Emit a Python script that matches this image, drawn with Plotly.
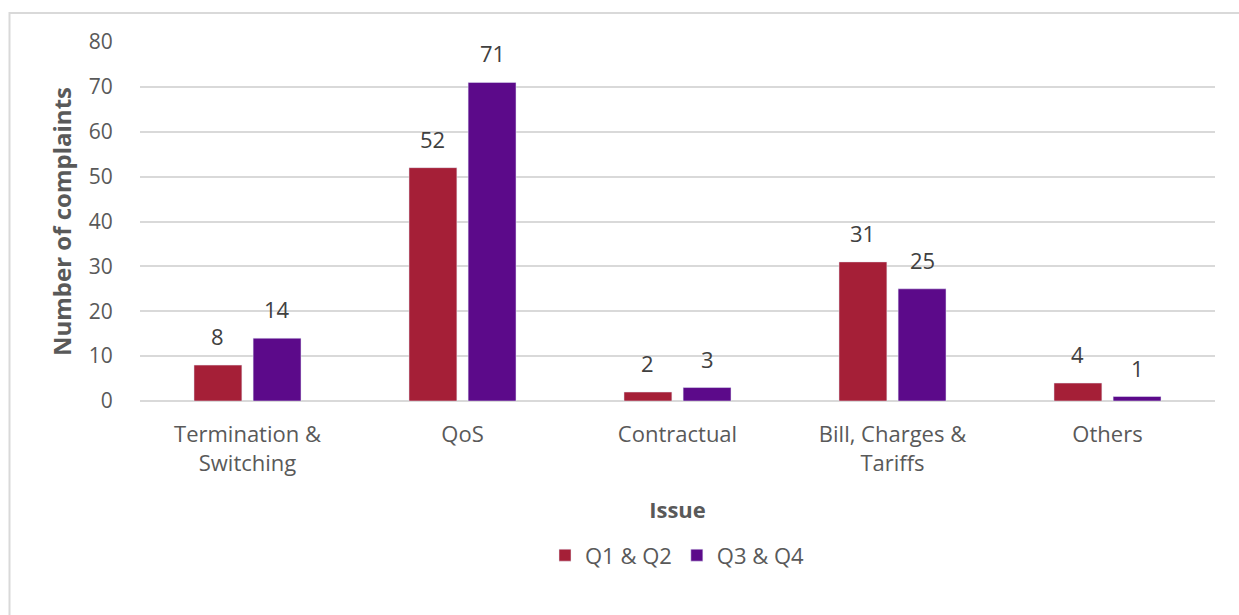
import plotly.graph_objects as go

categories = ["Termination &<br>Switching", "QoS", "Contractual", "Bill, Charges &<br>Tariffs", "Others"]
q1q2 = [8, 52, 2, 31, 4]
q3q4 = [14, 71, 3, 25, 1]
y_ticks = [0, 10, 20, 30, 40, 50, 60, 70, 80]

FONT = "Open Sans"
RED, PURPLE = "#A51F37", "#5C0A8A"
fig = go.Figure()
fig.add_trace(go.Bar(name="Q1 & Q2", x=categories, y=q1q2, marker_color=RED))
fig.add_trace(go.Bar(name="Q3 & Q4", x=categories, y=q3q4, marker_color=PURPLE))

L, R, T, B = 140, 24, 42, 214
W, H = 1239, 615
pw, ph = W - L - R, H - T - B
bx = (9.5 - L) / pw
by = (H - B - 13) / ph
BARGAP = 0.45
half = pw / len(categories) * (1 - BARGAP) / 4

annotations = []
for series, sh in ((q1q2, -half), (q3q4, half)):
    for c, v in zip(categories, series):
        annotations.append(dict(x=c, y=v, xref="x", yref="y", text=str(v), showarrow=False,
                                xshift=sh, yshift=12, yanchor="bottom",
                                font=dict(size=22, color="#404040", family=FONT)))

fig.update_layout(
    width=W, height=H,
    margin=dict(l=L, r=R, t=T, b=B),
    paper_bgcolor="white", plot_bgcolor="white",
    barmode="group", bargap=BARGAP, bargroupgap=0.19,
    font=dict(family=FONT, color="#595959", size=22),
    showlegend=True,
    legend=dict(orientation="h", x=0.5, xanchor="center", y=-0.43, yanchor="middle",
                font=dict(size=22, color="#595959", family=FONT), itemwidth=30,
                traceorder="normal"),
    xaxis=dict(showgrid=False, showline=False, ticks="outside", ticklen=14, tickcolor="rgba(0,0,0,0)",
               tickfont=dict(size=22, color="#595959"),
               title=dict(text="<b>Issue</b>", font=dict(size=22, color="#595959"), standoff=26)),
    yaxis=dict(range=[0, 80], tickvals=y_ticks, showgrid=True, gridcolor="#D9D9D9", gridwidth=1.5,
               zeroline=True, zerolinecolor="#D9D9D9", zerolinewidth=1.5,
               ticks="outside", ticklen=22, tickcolor="rgba(0,0,0,0)",
               tickfont=dict(size=21, color="#595959"),
               title=dict(text="<b>Number of complaints</b>", font=dict(size=24, color="#595959"), standoff=10)),
    annotations=annotations,
    shapes=[dict(type="path", xref="paper", yref="paper",
                 path=f"M {bx},-1 L {bx},{by} L 1.5,{by}",
                 line=dict(color="#D9D9D9", width=2))],
)
fig.write_html("out.html")
